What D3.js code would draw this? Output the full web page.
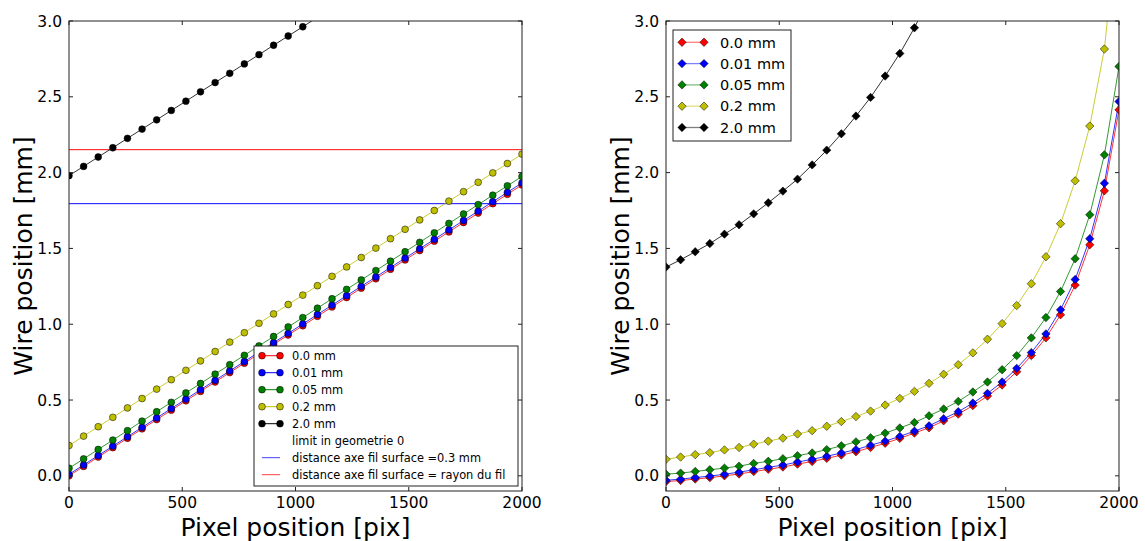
<!DOCTYPE html>
<html><head><meta charset="utf-8">
<script src="https://cdn.jsdelivr.net/npm/d3@7"></script>
<style>
html,body{margin:0;padding:0;background:#fff;}
svg{display:block;font-family:"DejaVu Sans",sans-serif;}
</style></head>
<body><svg id="c" width="1145" height="541"></svg>
<script>
const pixelX = [0,64.5,129.0,193.5,258.1,322.6,387.1,451.6,516.1,580.6,645.2,709.7,774.2,838.7,903.2,967.7,1032.3,1096.8,1161.3,1225.8,1290.3,1354.8,1419.4,1483.9,1548.4,1612.9,1677.4,1741.9,1806.5,1871.0,1935.5,2000];
const seriesNames = ["0.0 mm","0.01 mm","0.05 mm","0.2 mm","2.0 mm"];
const seriesColors = ["#ff0000","#0000ff","#008000","#bfbf00","#000000"];

// Left panel (linear geometry)
const left00  = [0.000,0.062,0.124,0.186,0.248,0.310,0.371,0.433,0.495,0.557,0.619,0.681,0.743,0.805,0.867,0.929,0.990,1.052,1.114,1.176,1.238,1.300,1.362,1.424,1.486,1.548,1.609,1.671,1.733,1.795,1.857,1.919];
const left001 = [0.010,0.072,0.134,0.196,0.258,0.320,0.382,0.444,0.506,0.568,0.630,0.692,0.754,0.816,0.878,0.940,1.002,1.064,1.126,1.188,1.250,1.312,1.374,1.436,1.498,1.560,1.622,1.684,1.746,1.808,1.870,1.932];
const left005 = [0.050,0.112,0.174,0.236,0.298,0.361,0.423,0.485,0.547,0.609,0.671,0.733,0.795,0.857,0.919,0.982,1.044,1.106,1.168,1.230,1.292,1.354,1.416,1.478,1.540,1.603,1.665,1.727,1.789,1.851,1.913,1.975];
const left02  = [0.200,0.262,0.324,0.386,0.448,0.510,0.572,0.634,0.696,0.758,0.820,0.882,0.944,1.006,1.068,1.130,1.192,1.254,1.316,1.378,1.440,1.502,1.564,1.626,1.688,1.750,1.812,1.874,1.936,1.998,2.060,2.122];
const left20  = [1.980,2.041,2.103,2.164,2.226,2.287,2.348,2.410,2.471,2.533,2.594,2.655,2.717,2.778,2.840,2.901,2.962,3.024];
const limitBlue = 1.795;   // distance axe fil surface =0.3 mm
const limitRed = 2.155;    // distance axe fil surface = rayon du fil
const leftLegendExtra = ["limit in geometrie 0","distance axe fil surface =0.3 mm","distance axe fil surface = rayon du fil"];

// Right panel
const right00  = [-0.038,-0.031,-0.021,-0.012,0.000,0.012,0.028,0.043,0.058,0.077,0.095,0.115,0.137,0.159,0.187,0.215,0.247,0.282,0.317,0.363,0.407,0.463,0.526,0.599,0.687,0.793,0.910,1.062,1.258,1.524,1.880,2.414];
const right001 = [-0.029,-0.022,-0.011,-0.002,0.011,0.024,0.040,0.056,0.071,0.091,0.109,0.129,0.151,0.173,0.202,0.229,0.260,0.295,0.330,0.377,0.423,0.480,0.544,0.619,0.709,0.813,0.936,1.095,1.295,1.564,1.930,2.469];
const right005 = [0.011,0.018,0.029,0.040,0.051,0.064,0.082,0.096,0.113,0.133,0.151,0.173,0.198,0.224,0.251,0.282,0.316,0.352,0.396,0.441,0.491,0.553,0.619,0.700,0.793,0.910,1.044,1.216,1.432,1.722,2.117,2.700];
const right02  = [0.109,0.124,0.140,0.153,0.171,0.187,0.209,0.229,0.249,0.276,0.298,0.327,0.358,0.391,0.427,0.467,0.511,0.557,0.610,0.670,0.733,0.811,0.901,1.004,1.123,1.267,1.445,1.663,1.946,2.307,2.815,3.750];
const right20  = [1.377,1.425,1.478,1.532,1.594,1.656,1.728,1.801,1.878,1.957,2.051,2.148,2.256,2.373,2.496,2.637,2.786,2.955,3.150];

const xTicks = [0,500,1000,1500,2000];
const yTicks = [0.0,0.5,1.0,1.5,2.0,2.5,3.0];
const xLabel = "Pixel position [pix]";
const yLabel = "Wire position [mm]";

const svg = d3.select("#c");
const yTop = 21, yBottom = 491;
const y = d3.scaleLinear().domain([-0.1,3.0]).range([yBottom, yTop]);

function drawMarker(g, type, cx, cy, col) {
  if (type === "o") {
    g.append("circle").attr("cx",cx).attr("cy",cy).attr("r",3.4)
      .attr("fill",col).attr("stroke","#000").attr("stroke-width",0.5);
  } else {
    const r = 4.2;
    g.append("path").attr("d",`M${cx},${cy-r}L${cx+r},${cy}L${cx},${cy+r}L${cx-r},${cy}Z`)
      .attr("fill",col).attr("stroke","#000").attr("stroke-width",0.5);
  }
}

function panel(id, x0, x1, series, marker, hlines) {
  const x = d3.scaleLinear().domain([0,2000]).range([x0, x1]);
  const g = svg.append("g");
  g.append("clipPath").attr("id","clip"+id).append("rect")
    .attr("x",x0).attr("y",yTop).attr("width",x1-x0).attr("height",yBottom-yTop);
  const plot = g.append("g").attr("clip-path","url(#clip"+id+")");
  (hlines||[]).forEach(h => {
    plot.append("rect").attr("x",x0).attr("width",x1-x0)
      .attr("y",Math.floor(y(h.v))).attr("height",1.2)
      .attr("fill",h.c).attr("fill-opacity",0.8);
  });
  const line = d3.line().x((d,i)=>x(pixelX[i])).y(d=>y(d));
  series.forEach((s,k) => {
    plot.append("path").datum(s).attr("d",line).attr("fill","none")
      .attr("stroke",seriesColors[k]).attr("stroke-width",1).attr("stroke-opacity",0.8);
  });
  series.forEach((s,k) => {
    s.forEach((v,i) => {
      drawMarker(plot, marker, x(pixelX[i]), y(v), seriesColors[k]);
    });
  });
  g.append("rect").attr("x",x0).attr("y",yTop).attr("width",x1-x0).attr("height",yBottom-yTop)
    .attr("fill","none").attr("stroke","#222").attr("stroke-width",1);
  xTicks.forEach(t => {
    const px = x(t);
    g.append("line").attr("x1",px).attr("x2",px).attr("y1",yBottom).attr("y2",yBottom-4).attr("stroke","#222");
    g.append("line").attr("x1",px).attr("x2",px).attr("y1",yTop).attr("y2",yTop+4).attr("stroke","#222");
    g.append("text").attr("x",px).attr("y",yBottom+17).attr("text-anchor","middle")
      .attr("font-size",15.5).attr("fill","#000").text(d3.format("d")(t));
  });
  yTicks.forEach(t => {
    const py = y(t);
    g.append("line").attr("x1",x0).attr("x2",x0+4).attr("y1",py).attr("y2",py).attr("stroke","#222");
    g.append("line").attr("x1",x1).attr("x2",x1-4).attr("y1",py).attr("y2",py).attr("stroke","#222");
    g.append("text").attr("x",x0-7).attr("y",py+5.5).attr("text-anchor","end")
      .attr("font-size",15.5).attr("fill","#000").text(d3.format(".1f")(t));
  });
  g.append("text").attr("x",(x0+x1)/2).attr("y",536).attr("text-anchor","middle")
    .attr("font-size",25).attr("fill","#000").text(xLabel);
  g.append("text").attr("transform",`translate(${x0-37},${(yTop+yBottom)/2}) rotate(-90)`)
    .attr("text-anchor","middle").attr("font-size",25).attr("fill","#000").text(yLabel);
  return g;
}

const gl = panel("L", 69, 522, [left00,left001,left005,left02,left20], "o",
  [{v:limitBlue,c:"#0000ff"},{v:limitRed,c:"#ff0000"}]);
const gr = panel("R", 666, 1119, [right00,right001,right005,right02,right20], "D", []);

// Left legend
(function(){
  const bx=254, by=346, bw=264, bh=140, rowH=17, fs=11.4;
  gl.append("rect").attr("x",bx).attr("y",by).attr("width",bw).attr("height",bh)
    .attr("fill","#fff").attr("stroke","#222").attr("stroke-width",1);
  const lx0=262, lx1=280, tx=292, ry0=355.7;
  seriesNames.forEach((n,k)=>{
    const ry = ry0 + k*rowH;
    gl.append("line").attr("x1",lx0).attr("x2",lx1).attr("y1",ry).attr("y2",ry)
      .attr("stroke",seriesColors[k]).attr("stroke-width",1);
    drawMarker(gl,"o",lx0,ry,seriesColors[k]);
    drawMarker(gl,"o",lx1,ry,seriesColors[k]);
    gl.append("text").attr("x",tx).attr("y",ry+4.2).attr("font-size",fs).text(n);
  });
  const extraCols = ["none","#0000ff","#ff0000"];
  leftLegendExtra.forEach((n,j)=>{
    const ry = ry0 + (5+j)*rowH;
    if (extraCols[j] !== "none") {
      gl.append("line").attr("x1",lx0).attr("x2",lx1).attr("y1",ry).attr("y2",ry)
        .attr("stroke",extraCols[j]).attr("stroke-width",1).attr("stroke-opacity",0.75);
    }
    gl.append("text").attr("x",tx).attr("y",ry+4.2).attr("font-size",fs).text(n);
  });
})();

// Right legend
(function(){
  const bx=673, by=30, bw=118, bh=111, rowH=21.3, fs=14.5;
  gr.append("rect").attr("x",bx).attr("y",by).attr("width",bw).attr("height",bh)
    .attr("fill","#fff").attr("stroke","#222").attr("stroke-width",1);
  const lx0=682, lx1=704, tx=720, ry0=42.3;
  seriesNames.forEach((n,k)=>{
    const ry = ry0 + k*rowH;
    gr.append("line").attr("x1",lx0).attr("x2",lx1).attr("y1",ry).attr("y2",ry)
      .attr("stroke",seriesColors[k]).attr("stroke-width",1.3).attr("stroke-opacity",0.5);
    drawMarker(gr,"D",lx0,ry,seriesColors[k]);
    drawMarker(gr,"D",lx1,ry,seriesColors[k]);
    gr.append("text").attr("x",tx).attr("y",ry+5.2).attr("font-size",fs).text(n);
  });
})();
</script></body></html>
